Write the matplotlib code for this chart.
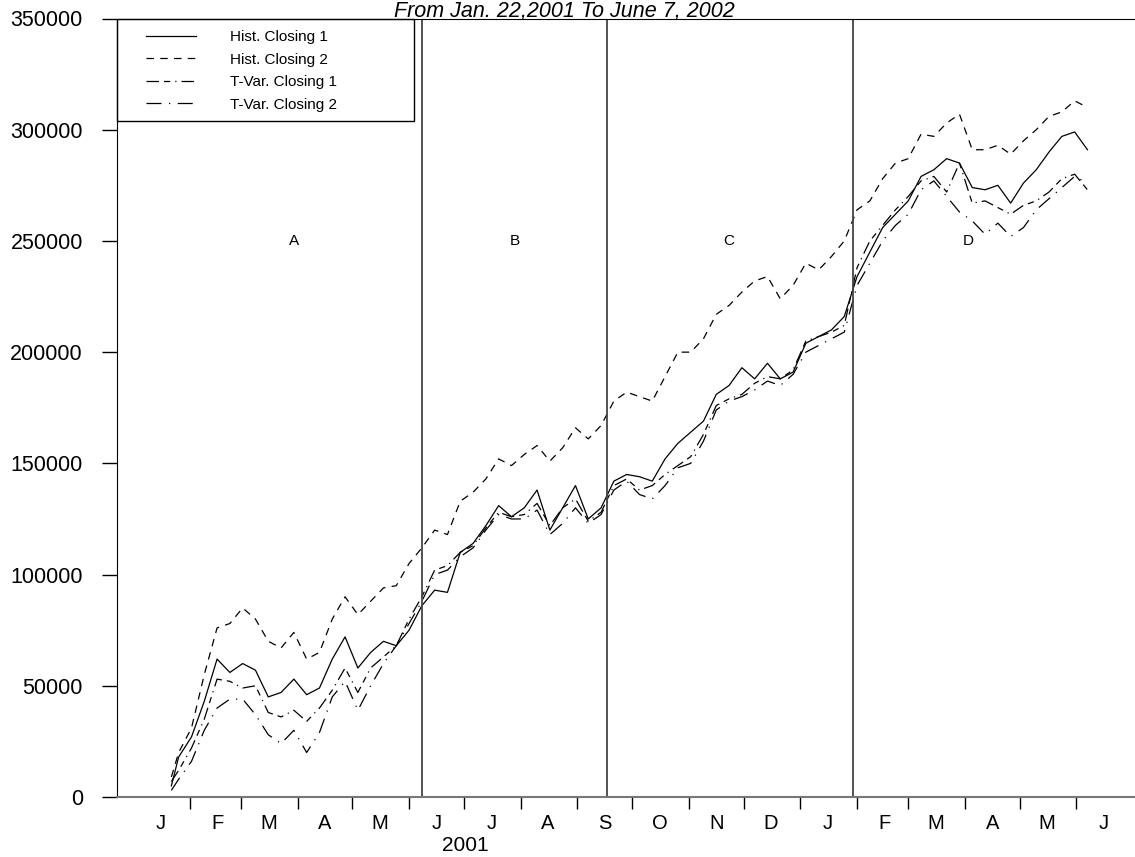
import numpy as np
import pandas as pd
import matplotlib
matplotlib.use('Agg')
import matplotlib.pyplot as plt
import matplotlib.patches as patches

plt.rcParams['font.family'] = ['Liberation Sans', 'DejaVu Sans']

# weekly closes, Jan 22 2001 then every Friday to Jun 7 2002
dates = [pd.Timestamp('2001-01-22')] + list(pd.date_range('2001-01-26', '2002-06-07', freq='W-FRI'))

hist1 = [5000, 18000, 27000, 43000, 62000, 56000, 60000, 57000, 45000, 47000,
         53000, 46000, 49000, 62000, 72000, 58000, 65000, 70000, 68000, 75000,
         86000, 93000, 92000, 110000, 114000, 122000, 131000, 126000, 130000, 138000,
         120000, 130000, 140000, 125000, 130000, 142000, 145000, 144000, 142000, 152000,
         159000, 164000, 169000, 181000, 185000, 193000, 188000, 195000, 188000, 191000,
         204000, 207000, 210000, 216000, 234000, 245000, 256000, 262000, 268000, 279000,
         282000, 287000, 285000, 274000, 273000, 275000, 267000, 276000, 282000, 290000,
         297000, 299000, 291000]
hist2 = [9000, 20000, 31000, 55000, 76000, 78000, 85000, 80000, 70000, 67000,
         74000, 62000, 65000, 80000, 90000, 82000, 88000, 94000, 95000, 105000,
         112000, 120000, 118000, 133000, 137000, 143000, 152000, 149000, 154000, 158000,
         151000, 157000, 166000, 161000, 167000, 178000, 182000, 180000, 178000, 189000,
         200000, 200000, 206000, 217000, 221000, 227000, 232000, 234000, 224000, 230000,
         240000, 237000, 243000, 250000, 264000, 268000, 278000, 285000, 287000, 298000,
         297000, 303000, 307000, 291000, 291000, 293000, 289000, 295000, 300000, 306000,
         308000, 313000, 310000]
tvar1 = [7000, 12000, 22000, 35000, 53000, 52000, 49000, 50000, 38000, 36000,
         39000, 34000, 40000, 48000, 58000, 47000, 58000, 63000, 68000, 80000,
         90000, 102000, 104000, 110000, 113000, 121000, 128000, 126000, 127000, 132000,
         122000, 130000, 134000, 124000, 128000, 140000, 143000, 138000, 140000, 145000,
         149000, 153000, 163000, 176000, 179000, 181000, 186000, 189000, 188000, 192000,
         205000, 207000, 209000, 212000, 238000, 250000, 257000, 264000, 270000, 277000,
         279000, 272000, 285000, 267000, 268000, 265000, 262000, 266000, 268000, 272000,
         278000, 280000, 273000]
tvar2 = [3000, 8000, 16000, 30000, 40000, 44000, 44000, 37000, 28000, 24000,
         30000, 20000, 29000, 45000, 52000, 39000, 50000, 60000, 68000, 78000,
         88000, 100000, 102000, 108000, 112000, 120000, 127000, 125000, 125000, 129000,
         118000, 123000, 130000, 123000, 127000, 138000, 142000, 136000, 134000, 140000,
         148000, 150000, 160000, 174000, 178000, 180000, 183000, 187000, 185000, 190000,
         200000, 203000, 206000, 209000, 230000, 240000, 250000, 257000, 262000, 273000,
         277000, 270000, 263000, 259000, 253000, 258000, 252000, 256000, 264000, 269000,
         274000, 279000, 276000]

series = [('Hist. Closing 1', hist1, '-'),
          ('Hist. Closing 2', hist2, (0, (6, 5))),
          ('T-Var. Closing 1', tvar1, (0, (10, 4, 5, 4, 1, 4))),
          ('T-Var. Closing 2', tvar2, (0, (12, 6, 1, 6)))]

period_edges = ['2001-06-08', '2001-09-17', '2002-01-30']
period_labels = [('A', '2001-03-30'), ('B', '2001-07-29'),
                 ('C', '2001-11-23'), ('D', '2002-04-03')]

fig = plt.figure(figsize=(11.35, 8.57), dpi=100)
ax = fig.add_axes([116.5 / 1135, 60 / 857, (1135 - 116.5) / 1135, (797 - 18.5) / 857])

for name, vals, ls in series:
    ax.plot(dates, vals, color='black', lw=0.9, linestyle=ls, label=name)

for d in period_edges:
    ax.axvline(pd.Timestamp(d), color='#444444', lw=1.3)

for lab, d in period_labels:
    ax.text(pd.Timestamp(d), 250000, lab, ha='center', va='center', fontsize=11)

ax.set_xlim(pd.Timestamp('2000-12-23'), pd.Timestamp('2002-07-03'))
ax.set_ylim(0, 350000)
ax.set_yticks(np.arange(0, 350001, 50000))
ax.tick_params(axis='y', direction='out', length=10.8, width=1, labelsize=15.5, pad=13.5)

month_starts = pd.date_range('2001-02-01', '2002-06-01', freq='MS')
month_mids = pd.date_range('2001-01-01', '2002-06-01', freq='MS') + pd.Timedelta(days=15)
ax.set_xticks(month_starts)
ax.set_xticklabels([])
ax.set_xticks(month_mids, minor=True)
ax.set_xticklabels([m.strftime('%b')[0] for m in month_mids], minor=True)
ax.tick_params(axis='x', which='major', direction='out', length=8.6, width=1)
ax.tick_params(axis='x', which='minor', length=0, labelsize=14.5, pad=12.5)

ax.text(pd.Timestamp('2001-07-02'), -0.062, '2001', transform=ax.get_xaxis_transform(),
        ha='center', va='center', fontsize=15)

ax.spines['right'].set_visible(False)
ax.spines['bottom'].set_color('#777777')
ax.spines['bottom'].set_linewidth(1.5)

ax.add_patch(patches.Rectangle((0, 0.868), 0.2925, 0.132, transform=ax.transAxes,
                               fill=False, ec='black', lw=1, clip_on=False, zorder=5))
ax.legend(loc='upper left', bbox_to_anchor=(0.029, 0.985), frameon=False,
          fontsize=11, handlelength=3.3, handletextpad=2.2, labelspacing=0.56,
          borderpad=0, borderaxespad=0)

fig.text(0.497, 1 - 16.5 / 857, 'From Jan. 22,2001 To June 7, 2002', ha='center',
         va='baseline', style='italic', fontsize=15.5)

fig.savefig('out.png', dpi=100)
